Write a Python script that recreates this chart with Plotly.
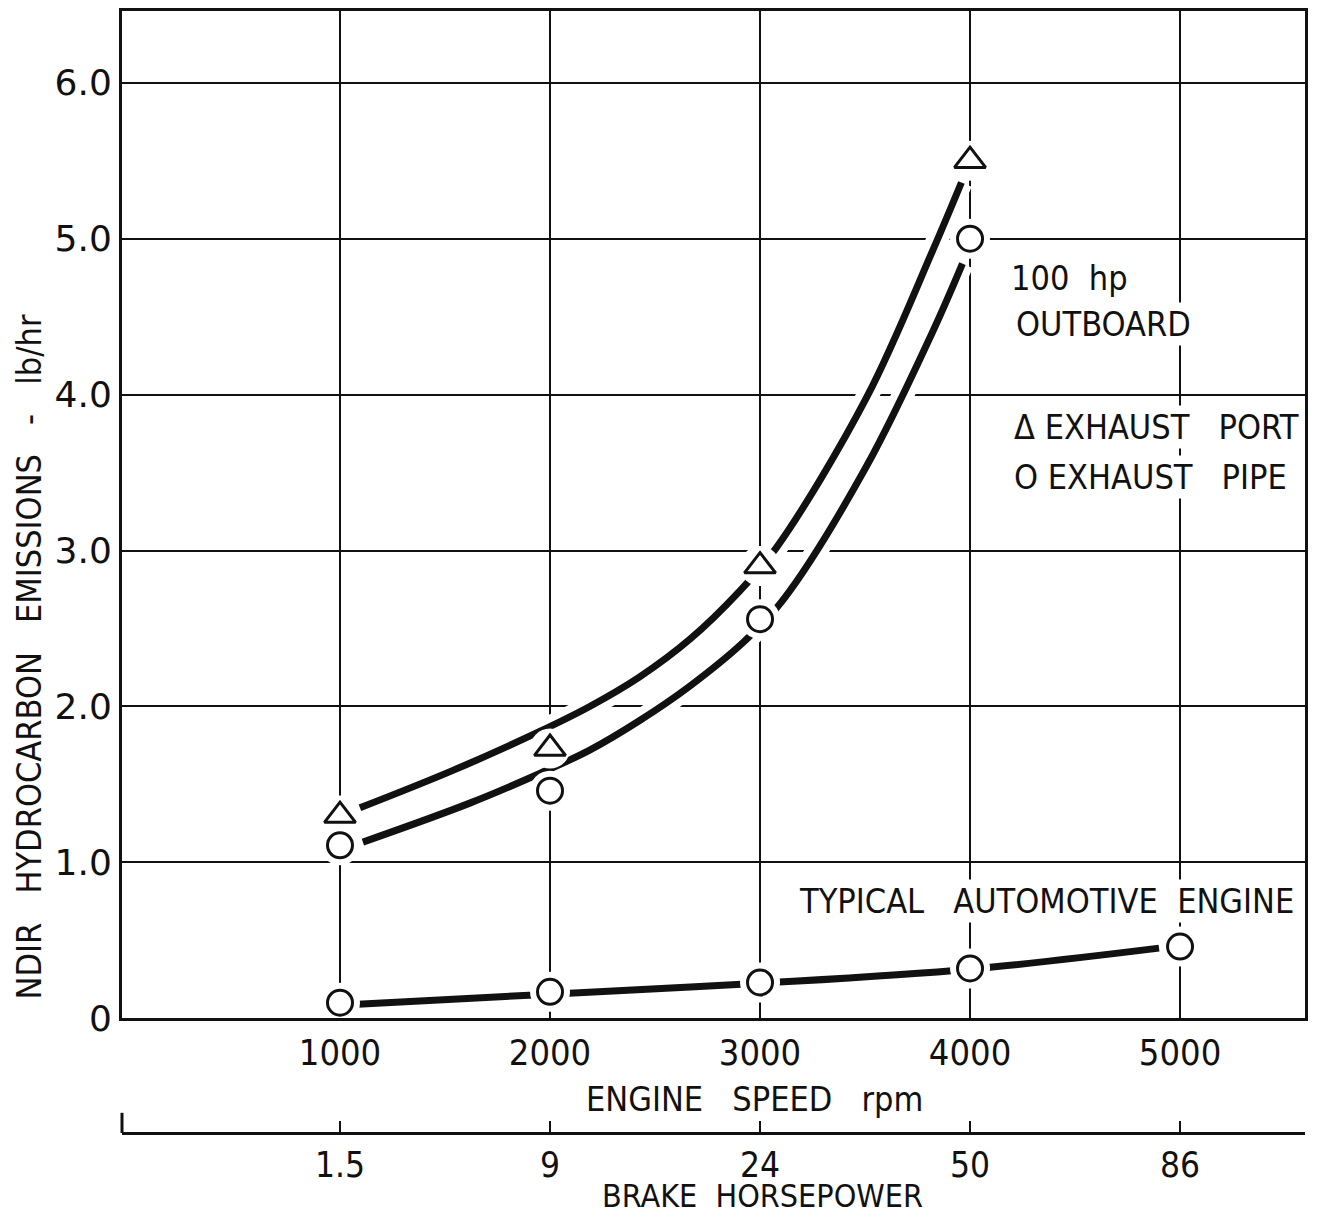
import plotly.graph_objects as go

# ---- data ----
rpm = [1000, 2000, 3000, 4000, 5000]
bhp_labels = ["1.5", "9", "24", "50", "86"]
y_ticks = [0, 1, 2, 3, 4, 5, 6]
y_ticktext = ["0", "1.0", "2.0", "3.0", "4.0", "5.0", "6.0"]

port_rpm = [1000, 2000, 3000, 4000]
port_hc = [1.30, 1.73, 2.90, 5.50]          # triangles (exhaust port)
pipe_rpm = [1000, 2000, 3000, 4000]
pipe_hc = [1.11, 1.46, 2.56, 5.00]          # circles (exhaust pipe)
auto_rpm = [1000, 2000, 3000, 4000, 5000]
auto_hc = [0.10, 0.17, 0.23, 0.32, 0.46]    # typical automotive engine

# hand-drawn fitted curves
port_fit_x = [1095, 1538, 1951, 2189, 2427, 2665, 2903, 3079, 3507, 3821, 3959]
port_fit_y = [1.35, 1.59, 1.84, 2.00, 2.19, 2.43, 2.74, 3.02, 3.98, 4.92, 5.36]
pipe_fit_x = [1109, 1618, 1951, 2189, 2427, 2665, 2927, 3108, 3507, 3821, 3964]
pipe_fit_y = [1.13, 1.38, 1.57, 1.72, 1.91, 2.13, 2.42, 2.68, 3.54, 4.40, 4.84]
auto_fit_x = [1085, 2000, 3000, 4000, 4900]
auto_fit_y = [0.09, 0.155, 0.225, 0.315, 0.45]

FONT = "DejaVu Sans Condensed"
BLACK = "#111111"

fig = go.Figure()

fits = [(port_fit_x, port_fit_y), (pipe_fit_x, pipe_fit_y), (auto_fit_x, auto_fit_y)]
# white underlays for curves (break the grid lines like in the drawing)
for fx, fy in fits:
    fig.add_trace(go.Scatter(x=fx, y=fy, mode="lines",
                             line=dict(color="white", width=22, shape="spline", smoothing=1.0),
                             hoverinfo="skip", showlegend=False))
for fx, fy in fits:
    fig.add_trace(go.Scatter(x=fx, y=fy, mode="lines",
                             line=dict(color=BLACK, width=7, shape="spline", smoothing=1.0),
                             hoverinfo="skip", showlegend=False))

# white halos around markers
for mx, my in [(port_rpm, port_hc), (pipe_rpm, pipe_hc), (auto_rpm, auto_hc)]:
    fig.add_trace(go.Scatter(x=mx, y=my, mode="markers",
                             marker=dict(symbol="circle", size=40, color="white", line=dict(width=0)),
                             hoverinfo="skip", showlegend=False))

fig.add_trace(go.Scatter(x=port_rpm, y=port_hc, mode="markers", name="EXHAUST PORT",
                         marker=dict(symbol="triangle-up-open", size=27, color=BLACK,
                                     line=dict(width=3, color=BLACK)), showlegend=False))
fig.add_trace(go.Scatter(x=pipe_rpm, y=pipe_hc, mode="markers", name="EXHAUST PIPE",
                         marker=dict(symbol="circle-open", size=25, color=BLACK,
                                     line=dict(width=3, color=BLACK)), showlegend=False))
fig.add_trace(go.Scatter(x=auto_rpm, y=auto_hc, mode="markers", name="TYPICAL AUTOMOTIVE ENGINE",
                         marker=dict(symbol="circle-open", size=25, color=BLACK,
                                     line=dict(width=3, color=BLACK)), showlegend=False))

# invisible trace to carry the brake-horsepower axis
fig.add_trace(go.Scatter(x=rpm, y=auto_hc, xaxis="x2", mode="markers",
                         marker=dict(opacity=0), hoverinfo="skip", showlegend=False))

XR = [-38, 5595]
fig.update_layout(
    width=1320, height=1210,
    margin=dict(l=114, r=23, t=0, b=85),
    paper_bgcolor="white", plot_bgcolor="white",
    showlegend=False,
    xaxis=dict(range=XR, tickvals=rpm, ticktext=[str(v) for v in rpm],
               showgrid=True, gridcolor=BLACK, gridwidth=1.5, zeroline=False,
               showline=True, linecolor=BLACK, linewidth=3, mirror=True,
               ticks="", ticklabelstandoff=0,
               tickfont=dict(family=FONT, size=36, color=BLACK),
               anchor="y"),
    yaxis=dict(range=[0, 6.46], domain=[0.10222, 1.0], tickvals=y_ticks, ticktext=y_ticktext,
               showgrid=True, gridcolor=BLACK, gridwidth=1.5, zeroline=False,
               showline=True, linecolor=BLACK, linewidth=3, mirror=True,
               ticks="", ticklabelstandoff=0,
               tickfont=dict(family="DejaVu Sans", size=36, color=BLACK)),
    xaxis2=dict(range=XR, overlaying="x", anchor="free", position=0, side="bottom",
                tickvals=rpm, ticktext=bhp_labels, showgrid=False, zeroline=False,
                showline=True, linecolor=BLACK, linewidth=3,
                ticks="inside", ticklen=11, tickwidth=2, tickcolor=BLACK,
                ticklabelstandoff=0,
                tickfont=dict(family=FONT, size=35, color=BLACK)),
)

NB = "\u00a0"
ann_font = dict(family=FONT, size=34, color=BLACK)
annotations = [
    dict(text=f"ENGINE{NB*3}SPEED{NB*3}rpm", xref="paper", yref="paper", x=0.535, y=0.0302,
         xanchor="center", yanchor="middle", showarrow=False, font=ann_font),
    dict(text=f"BRAKE{NB*2}HORSEPOWER", xref="paper", yref="paper", x=0.541, y=-0.0565,
         xanchor="center", yanchor="middle", showarrow=False,
         font=dict(family=FONT, size=32, color=BLACK)),
    dict(text=f"NDIR{NB*3}HYDROCARBON{NB*3}EMISSIONS{NB*3}-{NB*3}lb/hr", xref="paper", yref="paper",
         x=-0.0785, y=0.424, xanchor="center", yanchor="middle", textangle=-90,
         showarrow=False, font=ann_font),
    dict(text=f"100{NB*2}hp", x=4187, y=4.75, xanchor="left", yanchor="middle",
         showarrow=False, font=ann_font, bgcolor="white"),
    dict(text="OUTBOARD", x=4211, y=4.45, xanchor="left", yanchor="middle",
         showarrow=False, font=ann_font, bgcolor="white"),
    dict(text=f"Δ{NB}EXHAUST{NB*3}PORT", x=4202, y=3.79, xanchor="left", yanchor="middle",
         showarrow=False, font=ann_font, bgcolor="white"),
    dict(text=f"O{NB}EXHAUST{NB*3}PIPE", x=4202, y=3.47, xanchor="left", yanchor="middle",
         showarrow=False, font=ann_font, bgcolor="white"),
    dict(text=f"TYPICAL{NB*3}AUTOMOTIVE{NB*2}ENGINE", x=3174, y=0.755, xanchor="left", yanchor="middle",
         showarrow=False, font=ann_font, bgcolor="white"),
]
fig.update_layout(annotations=annotations)

# left end tick of the brake-horsepower scale
fig.add_shape(type="line", xref="paper", yref="paper", x0=0, x1=0, y0=0, y1=0.018,
              line=dict(color=BLACK, width=3))

fig.write_html("out.html")
